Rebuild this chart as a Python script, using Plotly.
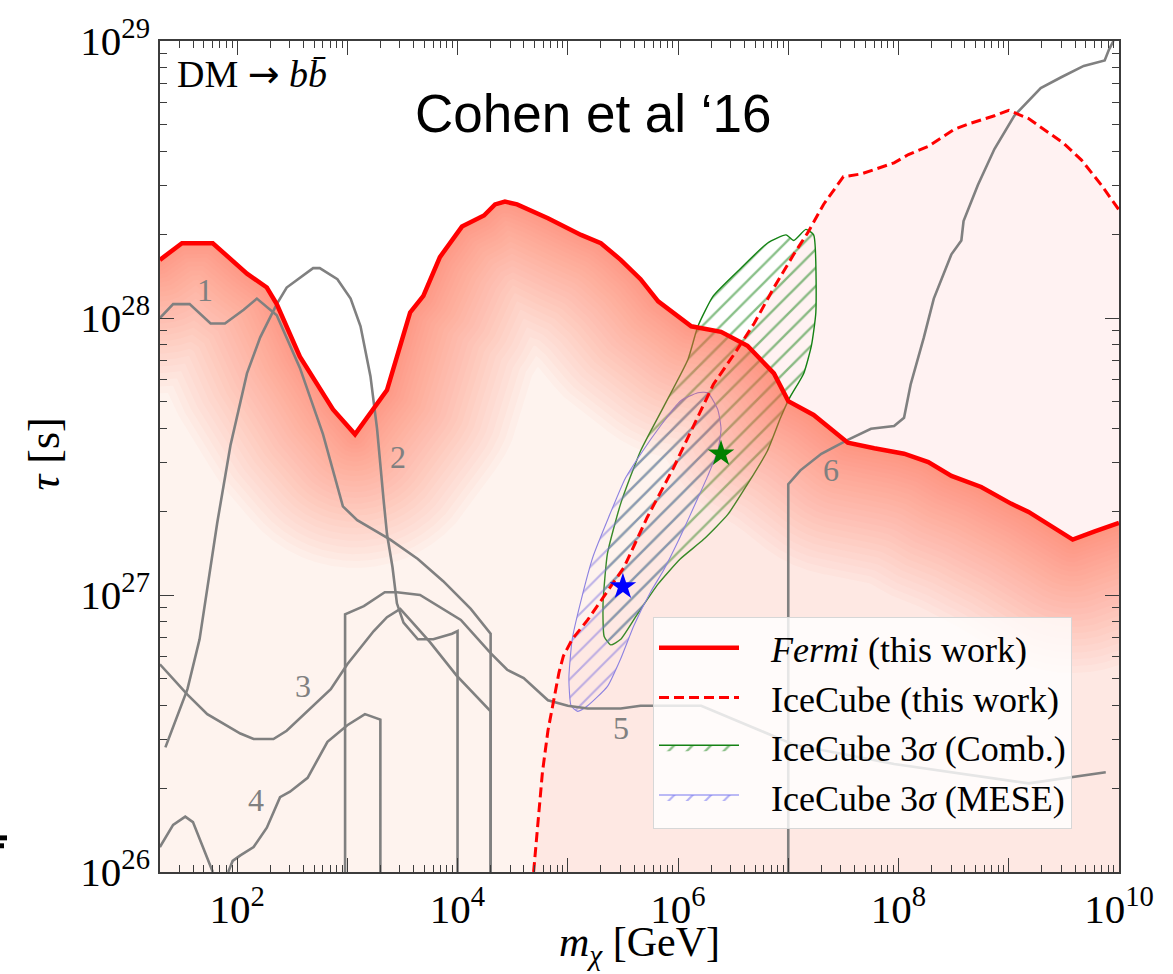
import numpy as np
import plotly.graph_objects as go

# ---------------- data (log10 values) ----------------
# Fermi (this work) lower limit on lifetime
fermi_logm = [1.30, 1.50, 1.78, 2.09, 2.27, 2.36, 2.57, 2.87, 3.07, 3.36, 3.51, 3.57, 3.69, 3.84, 4.04,
              4.14, 4.24, 4.34, 4.43, 4.54, 4.82, 5.12, 5.30, 5.48, 5.66, 5.82, 5.96, 6.12, 6.39, 6.63,
              6.87, 7.00, 7.23, 7.54, 7.78, 8.05, 8.27, 8.48, 8.75, 9.02, 9.18, 9.38, 9.58, 9.78, 10.0]
fermi_logtau = [28.21, 28.27, 28.27, 28.16, 28.11, 28.05, 27.86, 27.67, 27.58, 27.74, 27.94, 28.02, 28.08, 28.22, 28.33,
                28.35, 28.37, 28.41, 28.42, 28.41, 28.36, 28.30, 28.27, 28.21, 28.14, 28.06, 28.02, 27.97, 27.95, 27.90,
                27.80, 27.70, 27.65, 27.55, 27.53, 27.51, 27.48, 27.43, 27.39, 27.33, 27.30, 27.25, 27.20, 27.23, 27.26]

# IceCube (this work)
ice_logm = [4.69, 4.73, 4.77, 4.82, 4.87, 4.92, 4.96, 5.04, 5.18, 5.30, 5.51, 5.72, 5.96, 6.14, 6.32, 6.51, 6.69, 6.87,
            7.05, 7.18, 7.32, 7.50, 7.66, 7.96, 8.09, 8.27, 8.50, 8.63, 8.87, 9.00, 9.18, 9.50, 9.66, 9.84, 10.0]
ice_logtau = [26.0, 26.18, 26.36, 26.51, 26.62, 26.72, 26.78, 26.84, 26.91, 26.98, 27.10, 27.28, 27.46, 27.61, 27.76,
              27.87, 27.98, 28.11, 28.23, 28.31, 28.41, 28.51, 28.52, 28.56, 28.59, 28.62, 28.68, 28.70, 28.73, 28.75,
              28.72, 28.63, 28.57, 28.48, 28.39]

# IceCube 3 sigma regions
comb_logm = [6.98, 7.05, 7.16, 7.23, 7.25, 7.21, 7.14, 7.01, 6.93, 6.81, 6.63, 6.45, 6.23, 6.02, 5.82,
             5.63, 5.48, 5.39, 5.33, 5.32, 5.36, 5.48, 5.66, 5.87, 6.09, 6.18, 6.32, 6.57, 6.81, 6.98]
comb_logtau = [28.30, 28.28, 28.32, 28.30, 28.02, 27.90, 27.80, 27.71, 27.64, 27.52, 27.40, 27.29, 27.20, 27.13, 27.04,
               26.93, 26.84, 26.82, 26.85, 26.97, 27.15, 27.33, 27.52, 27.68, 27.85, 27.97, 28.08, 28.18, 28.27, 28.30]
mese_logm = [6.18, 6.27, 6.36, 6.39, 6.36, 6.27, 6.18, 6.02, 5.87, 5.75, 5.60, 5.48, 5.36, 5.18, 5.09,
             5.03, 5.01, 5.04, 5.12, 5.23, 5.37, 5.52, 5.68, 5.84, 6.02, 6.18]
mese_logtau = [27.73, 27.73, 27.67, 27.60, 27.52, 27.43, 27.35, 27.21, 27.09, 27.01, 26.89, 26.77, 26.67, 26.60, 26.58,
               26.60, 26.70, 26.84, 26.98, 27.14, 27.28, 27.42, 27.52, 27.61, 27.70, 27.73]
best_logm = [6.39, 5.50]      # Comb., MESE best fits
best_logtau = [27.51, 27.03]

# previous constraints (grey curves 1-6)
c1_logm = [1.30, 1.42, 1.57, 1.76, 1.89, 2.06, 2.18, 2.36, 2.57, 2.78, 2.96, 3.09, 3.39, 3.64, 3.87, 4.12, 4.30, 4.30]
c1_logtau = [28.00, 28.05, 28.05, 27.98, 27.98, 28.03, 28.07, 28.01, 27.82, 27.58, 27.32, 27.27, 27.20, 27.13, 27.05,
             26.95, 26.86, 26.0]
c2_logm = [1.35, 1.55, 1.66, 1.74, 1.82, 1.94, 2.09, 2.21, 2.36, 2.45, 2.55, 2.69, 2.75, 2.91, 3.03, 3.12, 3.21, 3.27,
           3.33, 3.36, 3.41, 3.45, 3.51, 3.64, 3.78, 3.95, 4.00, 4.00]
c2_logtau = [26.45, 26.66, 26.84, 27.05, 27.26, 27.54, 27.80, 27.93, 28.05, 28.11, 28.14, 28.18, 28.18, 28.14, 28.07,
             27.97, 27.79, 27.60, 27.34, 27.22, 27.10, 26.97, 26.90, 26.84, 26.84, 26.86, 26.87, 26.0]
c3_logm = [1.30, 1.55, 1.73, 2.03, 2.15, 2.33, 2.45, 2.64, 2.85, 3.00, 3.24, 3.36, 3.48, 3.57, 3.75, 3.99, 4.30, 4.30]
c3_logtau = [26.75, 26.64, 26.57, 26.50, 26.48, 26.48, 26.51, 26.58, 26.66, 26.75, 26.87, 26.92, 26.95, 26.91, 26.83,
             26.71, 26.58, 26.0]
c4a_logm = [1.30, 1.42, 1.53, 1.60, 1.78]
c4a_logtau = [26.09, 26.17, 26.20, 26.18, 26.0]
c4b_logm = [1.92, 1.96, 2.03, 2.15, 2.27, 2.39, 2.48, 2.64, 2.82, 3.00, 3.16, 3.30, 3.30]
c4b_logtau = [26.0, 26.04, 26.06, 26.09, 26.16, 26.27, 26.29, 26.34, 26.47, 26.53, 26.57, 26.55, 26.0]
c5_logm = [2.98, 2.98, 3.15, 3.34, 3.45, 3.66, 4.03, 4.30, 4.45, 4.60, 4.82, 5.00, 5.18, 5.48, 5.66, 5.78, 6.21, 6.75,
           7.05, 7.96, 9.18, 9.88]
c5_logtau = [26.0, 26.93, 26.96, 27.01, 27.01, 27.00, 26.91, 26.79, 26.73, 26.70, 26.62, 26.60, 26.59, 26.59, 26.60,
             26.60, 26.60, 26.51, 26.46, 26.39, 26.32, 26.36]
c6_logm = [7.00, 7.00, 7.11, 7.30, 7.54, 7.75, 7.96, 8.05, 8.11, 8.23, 8.32, 8.48, 8.57, 8.59, 8.72, 8.87, 9.05, 9.29,
           9.48, 9.68, 9.87, 9.91, 9.95]
c6_logtau = [26.0, 27.40, 27.45, 27.51, 27.56, 27.60, 27.61, 27.64, 27.76, 27.93, 28.07, 28.23, 28.28, 28.35, 28.48,
             28.61, 28.73, 28.83, 28.87, 28.91, 28.93, 28.97, 29.0]

curve_labels = ["1", "2", "3", "4", "5", "6"]
label_logm = [1.71, 3.46, 2.60, 2.17, 5.48, 7.39]
label_logtau = [28.10, 27.50, 26.67, 26.26, 26.52, 27.45]

x_tick_exp = [2, 3, 4, 5, 6, 7, 8, 9, 10]
x_tick_text = ["10<sup>2</sup>", "", "10<sup>4</sup>", "", "10<sup>6</sup>", "", "10<sup>8</sup>", "", "10<sup>10</sup>"]
y_tick_exp = [26, 27, 28, 29]
y_tick_text = ["10<sup>26</sup>", "10<sup>27</sup>", "10<sup>28</sup>", "10<sup>29</sup>"]

# ---------------- layout constants ----------------
W, H = 1173, 974
ML, MR, MT, MB = 160, 54, 32, 102
XMIN, XMAX = float(np.log10(20.0)), 10.0
YMIN, YMAX = 26.0, 29.0
PW, PH = W - ML - MR, H - MT - MB
sx, sy = PW / (XMAX - XMIN), PH / (YMAX - YMIN)

SERIF = "Liberation Serif, Times New Roman, serif"
GREY = "rgb(128,128,128)"
SP = "\u2002\u2005"


def p(v):
    return [10.0 ** a for a in v]


def ypx(py):
    return (H - MB - py) / PH


def xpx(px):
    return (px - ML) / PW


fig = go.Figure()

# IceCube excluded region (light pink)
fig.add_trace(go.Scatter(x=p(ice_logm + [10.0, ice_logm[0]]), y=p(ice_logtau + [YMIN, YMIN]),
                         fill="toself", fillcolor="rgba(255,0,0,0.0510)", mode="lines",
                         line=dict(width=0), showlegend=False, hoverinfo="skip"))

# hatched 3 sigma regions
fig.add_trace(go.Scatter(x=p(comb_logm), y=p(comb_logtau), fill="toself", mode="lines",
                         fillcolor="rgba(0,0,0,0)",
                         fillpattern=dict(shape="/", fgcolor="rgb(20,130,20)", bgcolor="rgba(0,0,0,0)",
                                          size=13, solidity=0.18),
                         line=dict(color="rgb(20,130,20)", width=1.4, shape="spline", smoothing=0.5),
                         name=SP + "IceCube 3<i>σ</i> (Comb.)", legendrank=3, legendgroup="c",
                         hoverinfo="skip"))
fig.add_trace(go.Scatter(x=p(mese_logm), y=p(mese_logtau), fill="toself", mode="lines",
                         fillcolor="rgba(0,0,0,0)",
                         fillpattern=dict(shape="/", fgcolor="rgb(100,100,240)", bgcolor="rgba(0,0,0,0)",
                                          size=13, solidity=0.16),
                         line=dict(color="rgb(120,120,240)", width=1.1, shape="spline", smoothing=0.5),
                         name=SP + "IceCube 3<i>σ</i> (MESE)", legendrank=4, legendgroup="d",
                         hoverinfo="skip"))

# Fermi excluded region with a shadow-like gradient below the limit curve
u = np.arange(0, PW + 1, 1.0)
lx = XMIN + u / sx
ly = np.interp(lx, fermi_logm, fermi_logtau)
v = (ly - YMIN) * sy
fig.add_trace(go.Scatter(x=(10.0 ** np.concatenate([lx, lx[::-1]])).tolist(),
                         y=(10.0 ** np.concatenate([ly, np.full_like(ly, YMIN)])).tolist(),
                         fill="toself", fillcolor="rgba(250,180,150,0.1608)", mode="lines",
                         line=dict(width=0), showlegend=False, hoverinfo="skip"))
NB = 26
radii = [135.0 * ((k + 1) / NB) ** 1.35 for k in range(NB)]
for r in radii:
    low = np.empty_like(v)
    ri = int(np.ceil(r))
    for i in range(len(u)):
        j0, j1 = max(0, i - ri), min(len(u), i + ri + 1)
        du = u[j0:j1] - u[i]
        low[i] = np.min(v[j0:j1] - np.sqrt(np.maximum(r * r - du * du, 0.0)))
    low = np.maximum(low, 0.0)
    fig.add_trace(go.Scatter(x=(10.0 ** np.concatenate([lx, lx[::-1]])).tolist(),
                             y=(10.0 ** np.concatenate([ly, (YMIN + low / sy)[::-1]])).tolist(),
                             fill="toself", fillcolor="rgba(255,96,64,0.0314)", mode="lines",
                             line=dict(width=0), showlegend=False, hoverinfo="skip"))

# grey curves
for cx, cy in [(c1_logm, c1_logtau), (c2_logm, c2_logtau), (c3_logm, c3_logtau),
               (c4a_logm, c4a_logtau), (c4b_logm, c4b_logtau), (c5_logm, c5_logtau), (c6_logm, c6_logtau)]:
    fig.add_trace(go.Scatter(x=p(cx), y=p(cy), mode="lines", line=dict(color=GREY, width=2.6),
                             showlegend=False, hoverinfo="skip"))

# IceCube and Fermi limit lines
fig.add_trace(go.Scatter(x=p(ice_logm), y=p(ice_logtau), mode="lines",
                         line=dict(color="rgb(255,0,0)", width=3, dash="10px,5px"),
                         name=SP + "IceCube (this work)", legendrank=2, legendgroup="b"))
fig.add_trace(go.Scatter(x=p(fermi_logm), y=p(fermi_logtau), mode="lines",
                         line=dict(color="rgb(255,0,0)", width=4.5),
                         name=SP + "<i>Fermi</i> (this work)", legendrank=1, legendgroup="a"))

# best-fit stars
fig.add_trace(go.Scatter(x=p(best_logm), y=p(best_logtau), mode="markers",
                         marker=dict(symbol="star", size=20, color=["rgb(0,128,0)", "rgb(0,0,255)"],
                                     line=dict(width=0)),
                         showlegend=False, hoverinfo="skip"))

annotations = []
for t, ax, ay in zip(curve_labels, label_logm, label_logtau):
    annotations.append(dict(x=ax, y=ay, xref="x", yref="y", text=t, showarrow=False,
                            font=dict(family=SERIF, size=32, color="rgb(128,128,128)")))

annotations += [
    dict(x=xpx(175), y=ypx(65), xref="paper", yref="paper", xanchor="left", yanchor="middle",
         text="DM <span style=\"font-family:DejaVu Sans\">→</span> <i>b</i><i>b\u0304</i>", showarrow=False,
         font=dict(family=SERIF, size=38, color="black")),
    dict(x=xpx(593), y=ypx(105), xref="paper", yref="paper", xanchor="center", yanchor="middle",
         text="Cohen et al ‘16", showarrow=False,
         font=dict(family="Liberation Sans, Arial, sans-serif", size=53, color="black")),
    dict(x=0.5, y=ypx(946), xref="paper", yref="paper", xanchor="center", yanchor="middle",
         text="<i>m</i><sub><i>χ</i></sub> [GeV]", showarrow=False, font=dict(family=SERIF, size=42, color="black")),
    dict(x=xpx(45), y=ypx(450), xref="paper", yref="paper", xanchor="center", yanchor="middle",
         text="<i>τ</i> [s]", textangle=-90, showarrow=False, font=dict(family=SERIF, size=44, color="black")),
]

x_minor = [k * 10.0 ** d for d in range(1, 10) for k in range(2, 10) if 20 <= k * 10.0 ** d <= 1e10]
y_minor = [k * 10.0 ** d for d in range(26, 29) for k in range(2, 10)]

axis_common = dict(type="log", showgrid=False, zeroline=False, showline=True, linecolor="rgb(60,60,60)",
                   linewidth=1.5, mirror="ticks", ticks="inside", ticklen=14, tickwidth=1.2,
                   tickcolor="rgb(60,60,60)", tickfont=dict(family=SERIF, size=41, color="black"))

fig.update_layout(
    width=W, height=H,
    margin=dict(l=ML, r=MR, t=MT, b=MB, pad=0),
    paper_bgcolor="white", plot_bgcolor="white",
    xaxis=dict(range=[XMIN, XMAX], tickmode="array", tickvals=[10.0 ** e for e in x_tick_exp], ticktext=x_tick_text,
               minor=dict(tickmode="array", tickvals=x_minor, ticks="inside", ticklen=7, tickwidth=1,
                          tickcolor="rgb(60,60,60)", showgrid=False),
               **axis_common),
    yaxis=dict(range=[YMIN, YMAX], tickmode="array", tickvals=[10.0 ** e for e in y_tick_exp], ticktext=y_tick_text,
               minor=dict(tickmode="array", tickvals=y_minor, ticks="inside", ticklen=7, tickwidth=1,
                          tickcolor="rgb(60,60,60)", showgrid=False),
               **axis_common),
    showlegend=True,
    legend=dict(x=xpx(653), y=ypx(614), xanchor="left", yanchor="top",
                bgcolor="rgba(255,255,255,0.8)", bordercolor="rgb(215,215,215)", borderwidth=1,
                font=dict(family=SERIF, size=36, color="black"), itemwidth=80, tracegroupgap=14,
                traceorder="normal"),
    annotations=annotations,
    shapes=[
        dict(type="rect", xref="paper", yref="paper", x0=xpx(0), x1=xpx(7), y0=ypx(840), y1=ypx(835),
             fillcolor="black", line=dict(width=0)),
        dict(type="rect", xref="paper", yref="paper", x0=xpx(0), x1=xpx(4), y0=ypx(848), y1=ypx(843),
             fillcolor="black", line=dict(width=0)),
    ],
)

fig.write_html("out.html")
